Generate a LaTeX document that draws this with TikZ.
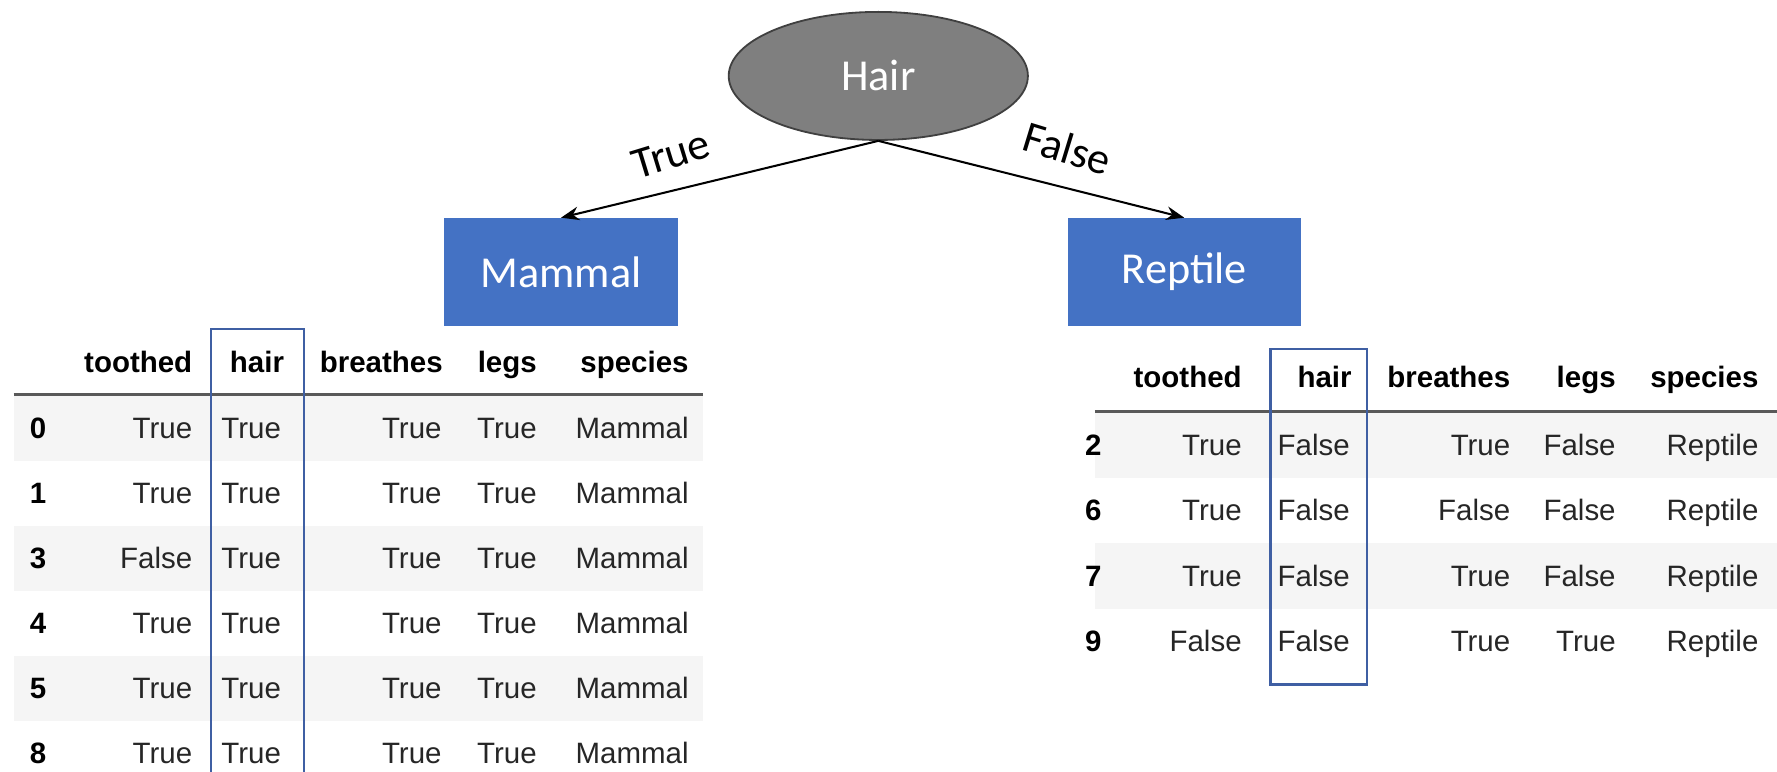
\documentclass[tikz,border=0pt]{standalone}
\usepackage{fontspec}
\setmainfont{Liberation Sans}
\newfontfamily\calib{Carlito}
\usetikzlibrary{arrows.meta,shapes.geometric}
\definecolor{boxblue}{HTML}{4472C4}
\definecolor{frameblue}{HTML}{3F5FA3}
\definecolor{rowgray}{HTML}{F5F5F5}
\definecolor{nodegray}{HTML}{7F7F7F}
\tikzset{
  test/.style={ellipse,fill=nodegray,draw=black!75,line width=0.8pt,inner sep=0pt,
    minimum width=132pt,minimum height=56.5pt,text=white,font=\calib\fontsize{19.5}{22}\selectfont},
  leaf/.style={fill=boxblue,text=white,inner sep=0pt,minimum width=103pt,minimum height=47.5pt,
    font=\calib\fontsize{19.5}{22}\selectfont},
  branch/.style={font=\calib\fontsize{19.5}{22}\selectfont,inner sep=1pt},
  branchline/.style={-{Stealth[length=8pt,width=6pt]},line width=0.9pt},
  colhead/.style={font=\bfseries\fontsize{13}{15}\selectfont,inner sep=0pt,anchor=base east},
  idx/.style={font=\bfseries\fontsize{13}{15}\selectfont,inner sep=0pt,anchor=base west},
  cell/.style={font=\fontsize{13}{15}\selectfont,inner sep=0pt,anchor=base east,text=black!85},
  hcell/.style={cell,anchor=base west},
}
\begin{document}
\begin{tikzpicture}[x=0.5pt,y=-0.5pt]
  \useasboundingbox (0,0) rectangle (1568,681);

  % tree
  \node[test] (hair) at (775,67) {Hair};
  \node[leaf] (mammal) at (495,240) {Mammal};
  \node[leaf] (reptile) at (1045,240) {Reptile};
  \draw[branchline] (hair.south) -- (mammal.north);
  \draw[branchline] (hair.south) -- (reptile.north);
  \node[branch,rotate=17] (truelbl) at (592,136) {True};
  \node[branch,rotate=-17] (falselbl) at (942,131) {False};

  % left table
  \foreach \r in {0,2,4}
    \fill[rowgray] (12,{349+57.4*\r}) rectangle (620,{349+57.4*(\r+1)});
  \draw[line width=1.2pt,black!65] (12,348) -- (620,348);
  \foreach \x/\txt [count=\c] in {170/toothed,251/hair,391/breathes,474/legs,608/species}
    \node[colhead] (lh\c) at (\x,329) {\txt};
  \foreach \i/\t/\h/\b/\l/\s [count=\r from 0] in {
      0/True/True/True/True/Mammal,
      1/True/True/True/True/Mammal,
      3/False/True/True/True/Mammal,
      4/True/True/True/True/Mammal,
      5/True/True/True/True/Mammal,
      8/True/True/True/True/Mammal} {
    \node[idx] (li\r) at (26,{387+57.4*\r}) {\i};
    \node[cell] (lt\r) at (170,{387+57.4*\r}) {\t};
    \node[hcell] (lhr\r) at (195,{387+57.4*\r}) {\h};
    \node[cell] (lb\r) at (390,{387+57.4*\r}) {\b};
    \node[cell] (ll\r) at (474,{387+57.4*\r}) {\l};
    \node[cell] (ls\r) at (608,{387+57.4*\r}) {\s};
  }
  \draw[frameblue,line width=1pt] (186,681) -- (186,290) -- (268,290) -- (268,681);

  % right table
  \foreach \r in {0,2}
    \fill[rowgray] (966,{364+57.7*\r}) rectangle (1568,{364+57.7*(\r+1)});
  \draw[line width=1.2pt,black!65] (966,363) -- (1568,363);
  \foreach \x/\txt [count=\c] in {1096/toothed,1193/hair,1333/breathes,1426/legs,1552/species}
    \node[colhead] (rh\c) at (\x,342) {\txt};
  \foreach \i/\t/\h/\b/\l/\s [count=\r from 0] in {
      2/True/False/True/False/Reptile,
      6/True/False/False/False/Reptile,
      7/True/False/True/False/Reptile,
      9/False/False/True/True/Reptile} {
    \node[idx] (ri\r) at (957,{402+57.7*\r}) {\i};
    \node[cell] (rt\r) at (1096,{402+57.7*\r}) {\t};
    \node[hcell] (rhr\r) at (1127,{402+57.7*\r}) {\h};
    \node[cell] (rb\r) at (1333,{402+57.7*\r}) {\b};
    \node[cell] (rl\r) at (1426,{402+57.7*\r}) {\l};
    \node[cell] (rs\r) at (1552,{402+57.7*\r}) {\s};
  }
  \draw[frameblue,line width=1pt] (1121,308) rectangle (1206,604);
\end{tikzpicture}
\end{document}
